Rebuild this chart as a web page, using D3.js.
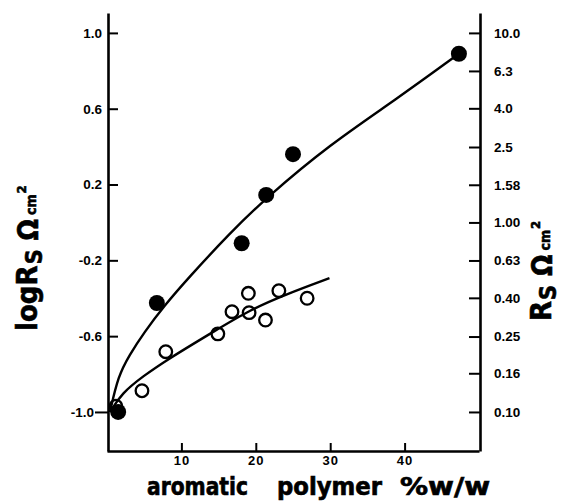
<!DOCTYPE html>
<html>
<head>
<meta charset="utf-8">
<script src="https://cdn.jsdelivr.net/npm/d3@7/dist/d3.min.js"></script>
<style>
  body { margin: 0; background: #fff; }
  svg { display: block; }
  .tick text { font-family: "Liberation Sans", Arial, sans-serif; font-weight: bold; }
  .title { font-family: "Liberation Sans Narrow", "DejaVu Sans Condensed", "Liberation Sans", sans-serif; font-weight: bold; stroke: #000; stroke-width: 0.6; }
</style>
</head>
<body>
<svg id="chart" width="564" height="502"></svg>
<script>
// filled circles: % w/w aromatic polymer vs log Rs
const filledX = [1.5, 6.7, 18.1, 21.4, 25.0, 47.3];
const filledLog = [-1.0, -0.425, -0.11, 0.145, 0.36, 0.89];

// open circles
const openX = [1.2, 4.7, 7.9, 14.9, 16.8, 19.0, 19.1, 21.3, 23.1, 26.9];
const openLog = [-0.97, -0.888, -0.682, -0.588, -0.471, -0.374, -0.476, -0.515, -0.36, -0.40];

// fitted curves, points
const upperCurveX = [0.4, 1.5, 3.0, 5.0, 7.6, 11.0, 16.5, 21.4, 29.9, 38.9, 47.3];
const upperCurveLog = [-1.0, -0.81, -0.70, -0.58, -0.444, -0.29, -0.057, 0.13, 0.41, 0.65, 0.89];
const lowerCurveX = [0.4, 2.0, 4.9, 8.0, 14.7, 19.2, 24.0, 29.9];
const lowerCurveLog = [-1.0, -0.90, -0.81, -0.726, -0.567, -0.462, -0.38, -0.294];

// tick labels
const xTicks = [10, 20, 30, 40];
const leftTicks = [1.0, 0.6, 0.2, -0.2, -0.6, -1.0];
const leftTickLabels = ['1.0', '0.6', '0.2', '-0.2', '-0.6', '-1.0'];
const rightTicks = [10, 6.3, 4.0, 2.5, 1.58, 1.0, 0.63, 0.40, 0.25, 0.16, 0.10];
const rightTickLabels = ['10.0', '6.3', '4.0', '2.5', '1.58', '1.00', '0.63', '0.40', '0.25', '0.16', '0.10'];

const svg = d3.select('#chart');

const x = d3.scaleLinear().domain([0, 50]).range([107, 479]);
const y = d3.scaleLinear().domain([-1.206, 1.105]).range([451, 13]);
const yRight = d3.scaleLog()
  .domain([Math.pow(10, -1.206), Math.pow(10, 1.105)])
  .range([451, 13]);

const styleAxis = g => {
  g.select('.domain').attr('stroke', '#000').attr('stroke-width', 2.6);
  g.selectAll('.tick line').attr('stroke', '#000').attr('stroke-width', 2);
  g.selectAll('.tick text').attr('fill', '#000');
};

// bottom axis, ticks pointing in
svg.append('g')
  .attr('transform', 'translate(0,451)')
  .call(
    d3.axisBottom(x)
      .tickValues(xTicks)
      .tickSizeInner(-8)
      .tickSizeOuter(0)
      .tickPadding(5)
  )
  .call(styleAxis)
  .call(g => g.selectAll('.tick text').attr('font-size', 13).style('letter-spacing', '1px'));

// left axis
svg.append('g')
  .attr('transform', 'translate(108,0)')
  .call(
    d3.axisLeft(y)
      .tickValues(leftTicks)
      .tickFormat((d, i) => leftTickLabels[i])
      .tickSizeInner(-10)
      .tickSizeOuter(0)
      .tickPadding(6)
  )
  .call(styleAxis)
  .call(g => g.selectAll('.tick text').attr('font-size', 13.5))
  .call(g =>
    // the -1.0 tick sticks out to the left
    g.selectAll('.tick')
      .filter(d => d === -1.0)
      .call(t => t.select('line').attr('x2', -13))
      .call(t => t.select('text').attr('x', -14))
  );

// right axis, log scale
svg.append('g')
  .attr('transform', 'translate(480,0)')
  .call(
    d3.axisRight(yRight)
      .tickValues(rightTicks)
      .tickFormat((d, i) => rightTickLabels[i])
      .tickSizeInner(-11)
      .tickSizeOuter(0)
      .tickPadding(14)
  )
  .call(styleAxis)
  .call(g => g.selectAll('.tick text').attr('font-size', 13.5));

// curves
const line = d3.line()
  .x(d => x(d[0]))
  .y(d => y(d[1]))
  .curve(d3.curveBasis);

svg.append('path')
  .datum(d3.zip(upperCurveX, upperCurveLog))
  .attr('d', line)
  .attr('fill', 'none')
  .attr('stroke', '#000')
  .attr('stroke-width', 2.4);

svg.append('path')
  .datum(d3.zip(lowerCurveX, lowerCurveLog))
  .attr('d', line)
  .attr('fill', 'none')
  .attr('stroke', '#000')
  .attr('stroke-width', 2.4);

// points
svg.append('g')
  .selectAll('circle')
  .data(d3.zip(openX, openLog))
  .join('circle')
  .attr('cx', d => x(d[0]))
  .attr('cy', d => y(d[1]))
  .attr('r', 6.3)
  .attr('fill', 'none')
  .attr('stroke', '#000')
  .attr('stroke-width', 2.3);

svg.append('g')
  .selectAll('circle')
  .data(d3.zip(filledX, filledLog))
  .join('circle')
  .attr('cx', d => x(d[0]))
  .attr('cy', d => y(d[1]))
  .attr('r', 8)
  .attr('fill', '#000');

// x axis title
const xTitle = [
  { t: 'aromatic', x0: 147, w: 101 },
  { t: 'polymer', x0: 277, w: 105 },
  { t: '%w/w', x0: 400, w: 90 }
];
svg.append('g')
  .selectAll('text')
  .data(xTitle)
  .join('text')
  .attr('class', 'title')
  .attr('x', d => d.x0)
  .attr('y', 495)
  .attr('font-size', 24)
  .attr('textLength', d => d.w)
  .attr('lengthAdjust', 'spacingAndGlyphs')
  .text(d => d.t);

// rotated unit titles
const unitTitle = (g, main) => {
  const txt = g.append('text')
    .attr('class', 'title')
    .attr('transform', 'rotate(-90)');
  txt.append('tspan').attr('font-size', 29).text(main);
  txt.append('tspan').attr('font-size', 23).attr('dx', 1).attr('dy', 5).text('S');
  txt.append('tspan').attr('font-size', 28).attr('dx', 9).attr('dy', -4).text('Ω');
  txt.append('tspan').attr('font-size', 14).attr('dx', 4).attr('dy', -2).text('cm');
  txt.append('tspan').attr('font-size', 13).attr('dx', 1).attr('dy', -10).text('2');
};

svg.append('g')
  .attr('transform', 'translate(37,331)')
  .call(g => unitTitle(g, 'logR'));

svg.append('g')
  .attr('transform', 'translate(551,321)')
  .call(g => unitTitle(g, 'R'));
</script>
</body>
</html>
